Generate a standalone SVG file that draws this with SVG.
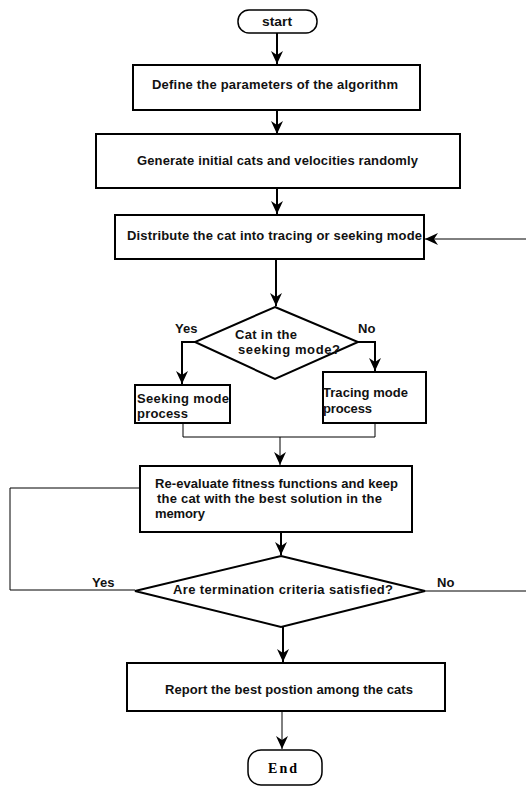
<svg xmlns="http://www.w3.org/2000/svg" width="526" height="790" viewBox="0 0 526 790">
<style>
.box{fill:#fff;stroke:#000;stroke-width:2}
.term{fill:#fff;stroke:#000;stroke-width:1.5}
.t{font-family:"Liberation Sans",Arial,sans-serif;font-weight:bold;font-size:13px;fill:#111}
.w{fill:none;stroke:#000;stroke-width:2}
.thin{fill:none;stroke:#000;stroke-width:1}
</style>
<defs>
<marker id="ah" markerUnits="userSpaceOnUse" markerWidth="14" markerHeight="14" viewBox="0 0 14 14" refX="13" refY="7" orient="auto">
<path d="M0,1 L13,7 L0,13 L4,7 Z" fill="#000"/>
</marker>
</defs>
<g id="connectors">
<line class="w" x1="277" y1="33" x2="277" y2="64" marker-end="url(#ah)"/>
<line class="w" x1="277" y1="110" x2="277" y2="134" marker-end="url(#ah)"/>
<line class="w" x1="277" y1="188" x2="277" y2="214" marker-end="url(#ah)"/>
<line class="thin" x1="526" y1="239" x2="425" y2="239" marker-end="url(#ah)"/>
<line class="w" x1="276" y1="259" x2="276" y2="306" marker-end="url(#ah)"/>
<polyline class="w" points="195,342 182,342 182,384" marker-end="url(#ah)"/>
<polyline class="w" points="358,342 375,342 375,371" marker-end="url(#ah)"/>
<polyline class="thin" points="183,423 183,437 375,437 375,423"/>
<line class="thin" x1="280" y1="437" x2="280" y2="465" marker-end="url(#ah)"/>
<line class="w" x1="281" y1="532" x2="281" y2="555" marker-end="url(#ah)"/>
<polyline class="thin" points="140,488 10,488 10,590 135,590"/>
<line class="thin" x1="425" y1="591" x2="526" y2="591"/>
<line class="w" x1="283" y1="627" x2="283" y2="662" marker-end="url(#ah)"/>
<line class="thin" x1="282" y1="711" x2="282" y2="749" marker-end="url(#ah)"/>
</g>
<g id="start">
<rect class="term" x="238" y="10" width="79" height="23" rx="11"/>
<text class="t" x="262" y="26" textLength="30" lengthAdjust="spacingAndGlyphs">start</text>
</g>
<g id="define">
<rect class="box" x="133" y="65" width="287" height="45"/>
<text class="t" x="152" y="89" textLength="246">Define the parameters of the algorithm</text>
</g>
<g id="generate">
<rect class="box" x="96" y="134" width="364" height="54"/>
<text class="t" x="137" y="165" textLength="281">Generate initial cats and velocities randomly</text>
</g>
<g id="distribute">
<rect class="box" x="115" y="215" width="309" height="44"/>
<text class="t" x="127" y="240" textLength="295">Distribute the cat into tracing or seeking mode</text>
</g>
<g id="decision1">
<polygon class="box" points="275,307 358,342 275,379 195,342"/>
<text class="t" x="235" y="339" textLength="62">Cat in the</text>
<text class="t" x="238" y="354" textLength="102">seeking mode?</text>
<text class="t" x="175" y="333">Yes</text>
<text class="t" x="358" y="333">No</text>
</g>
<g id="seeking">
<rect class="box" x="135" y="385" width="95" height="38"/>
<text class="t" x="137" y="403" textLength="92">Seeking mode</text>
<text class="t" x="137" y="418" textLength="51">process</text>
</g>
<g id="tracing">
<rect class="box" x="323" y="372" width="103" height="51"/>
<text class="t" x="323" y="397" textLength="85">Tracing mode</text>
<text class="t" x="323" y="413" textLength="49">process</text>
</g>
<g id="reevaluate">
<rect class="box" x="140" y="466" width="272" height="66"/>
<text class="t" x="155" y="488" textLength="243">Re-evaluate fitness functions and keep</text>
<text class="t" x="157" y="503" textLength="225">the cat with the best solution in the</text>
<text class="t" x="155" y="518" textLength="50">memory</text>
</g>
<g id="decision2">
<polygon class="box" points="281,556 425,591 281,627 135,591"/>
<text class="t" x="173" y="594" textLength="220">Are termination criteria satisfied?</text>
<text class="t" x="92" y="587">Yes</text>
<text class="t" x="437" y="587">No</text>
</g>
<g id="report">
<rect class="box" x="127" y="663" width="318" height="48"/>
<text class="t" x="165" y="694" textLength="248">Report the best postion among the cats</text>
</g>
<g id="end">
<rect class="term" x="248" y="750" width="74" height="35" rx="13"/>
<text x="268" y="773" font-family="Liberation Serif,serif" font-weight="bold" font-size="14" textLength="29">End</text>
</g>
</svg>
